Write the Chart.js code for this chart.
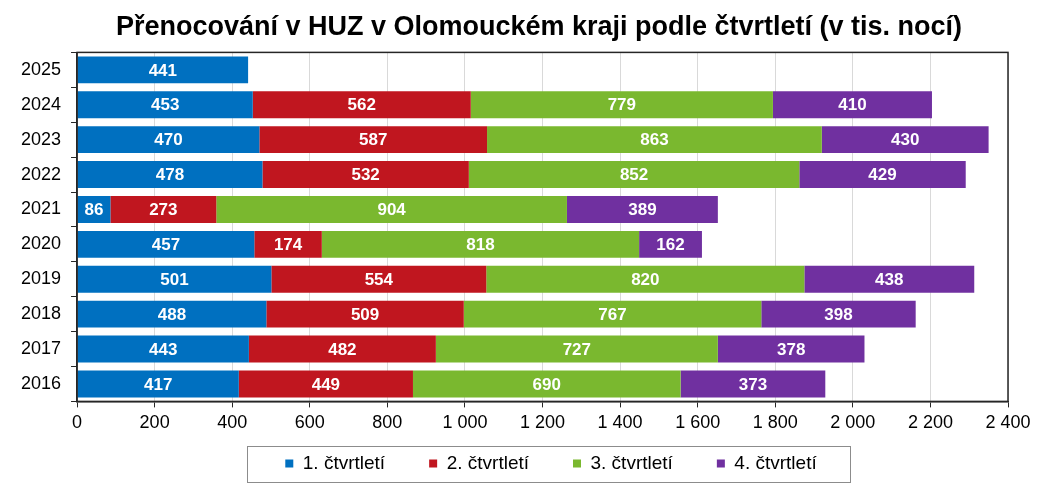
<!DOCTYPE html>
<html>
<head>
<meta charset="utf-8">
<script src="https://cdn.jsdelivr.net/npm/chart.js@4.4.0/dist/chart.umd.min.js"></script>
<style>
  body { margin: 0; background: #fff; }
  #wrap { width: 1058px; height: 490px; }
</style>
</head>
<body>
<div id="wrap"><canvas id="chart" width="1058" height="490"></canvas></div>
<script>
// roky odshora dolu
var years = ["2025", "2024", "2023", "2022", "2021", "2020", "2019", "2018", "2017", "2016"];
var q1 = [441, 453, 470, 478, 86, 457, 501, 488, 443, 417];
var q2 = [null, 562, 587, 532, 273, 174, 554, 509, 482, 449];
var q3 = [null, 779, 863, 852, 904, 818, 820, 767, 727, 690];
var q4 = [null, 410, 430, 429, 389, 162, 438, 398, 378, 373];
var seriesNames = ["1. čtvrtletí", "2. čtvrtletí", "3. čtvrtletí", "4. čtvrtletí"];
var xTicks = [0, 200, 400, 600, 800, 1000, 1200, 1400, 1600, 1800, 2000, 2200, 2400];

var colors = ["#0070c0", "#c0161f", "#7ab82f", "#7030a0"];
var FONT = "'Liberation Sans', Arial, sans-serif";

// hodnoty uvnitr segmentu
var barLabels = {
    id: "barLabels",
    afterDatasetsDraw: function (chart) {
        var ctx = chart.ctx;
        ctx.save();
        ctx.font = "bold 17px " + FONT;
        ctx.fillStyle = "#fff";
        ctx.textAlign = "center";
        ctx.textBaseline = "middle";
        chart.data.datasets.forEach(function (ds, i) {
            var meta = chart.getDatasetMeta(i);
            meta.data.forEach(function (el, j) {
                var v = ds.data[j];
                if (v == null) return;
                ctx.fillText(String(v), (el.x + el.base) / 2, el.y + 1);
            });
        });
        ctx.restore();
    }
};

// posun titulku a legendy + ramecky
var frames = {
    id: "frames",
    afterLayout: function (chart) {
        var t = chart.titleBlock;
        var dt = 539 - (t.left + t.right) / 2;
        t.left += dt; t.right += dt;
        var lg = chart.legend;
        var dl = 551 - (lg.left + lg.right) / 2;
        lg.left += dl; lg.right += dl;
        lg.top = 410; lg.bottom = 486; lg.height = 76;
    },
    afterDraw: function (chart) {
        var ctx = chart.ctx, a = chart.chartArea;
        ctx.save();
        ctx.strokeStyle = "#262626";
        ctx.lineWidth = 1.5;
        ctx.strokeRect(a.left, a.top, a.right - a.left, a.bottom - a.top);
        var hb = chart.legend.legendHitBoxes;
        if (hb && hb.length) {
            var minX = Math.min.apply(null, hb.map(function (b) { return b.left; }));
            var maxX = Math.max.apply(null, hb.map(function (b) { return b.left + b.width; }));
            var cy = hb[0].top + hb[0].height / 2;
            ctx.strokeStyle = "#8c8c8c";
            ctx.lineWidth = 1;
            ctx.strokeRect(Math.round(minX - 38) + 0.5, Math.round(cy - 18) + 0.5, Math.round(maxX - minX + 72), 36);
        }
        ctx.restore();
    }
};

var datasets = [q1, q2, q3, q4].map(function (d, i) {
    return {
        label: seriesNames[i],
        data: d,
        backgroundColor: colors[i],
        borderWidth: 0,
        categoryPercentage: 1,
        barPercentage: 0.77
    };
});

new Chart(document.getElementById("chart"), {
    type: "bar",
    data: { labels: years, datasets: datasets },
    plugins: [barLabels, frames],
    options: {
        indexAxis: "y",
        responsive: false,
        animation: false,
        layout: { padding: { left: 11, right: 50, top: 0, bottom: 6 } },
        plugins: {
            title: {
                display: true,
                text: "Přenocování v HUZ v Olomouckém kraji podle čtvrtletí (v tis. nocí)",
                color: "#000",
                font: { family: FONT, size: 27, weight: "bold" },
                padding: { top: 11, bottom: 9 }
            },
            legend: {
                position: "bottom",
                maxHeight: 45,
                labels: {
                    color: "#000",
                    font: { family: FONT, size: 19 },
                    boxWidth: 8,
                    boxHeight: 8,
                    padding: 44
                }
            },
            tooltip: { enabled: false }
        },
        scales: {
            x: {
                stacked: true,
                min: 0,
                max: 2400,
                afterBuildTicks: function (axis) {
                    axis.ticks = xTicks.map(function (v) { return { value: v }; });
                },
                ticks: {
                    color: "#000",
                    font: { family: FONT, size: 18 },
                    padding: 5,
                    maxRotation: 0,
                    callback: function (v) {
                        return String(v).replace(/\B(?=(\d{3})+(?!\d))/g, " ");
                    }
                },
                grid: { color: "#d9d9d9", tickColor: "#262626", tickLength: 6 },
                border: { color: "#262626", width: 1.5 }
            },
            y: {
                stacked: true,
                ticks: {
                    color: "#000",
                    font: { family: FONT, size: 18 },
                    padding: 10
                },
                grid: { offset: true, drawOnChartArea: false, tickColor: "#262626", tickLength: 6 },
                border: { color: "#262626", width: 1.5 }
            }
        }
    }
});
</script>
</body>
</html>
